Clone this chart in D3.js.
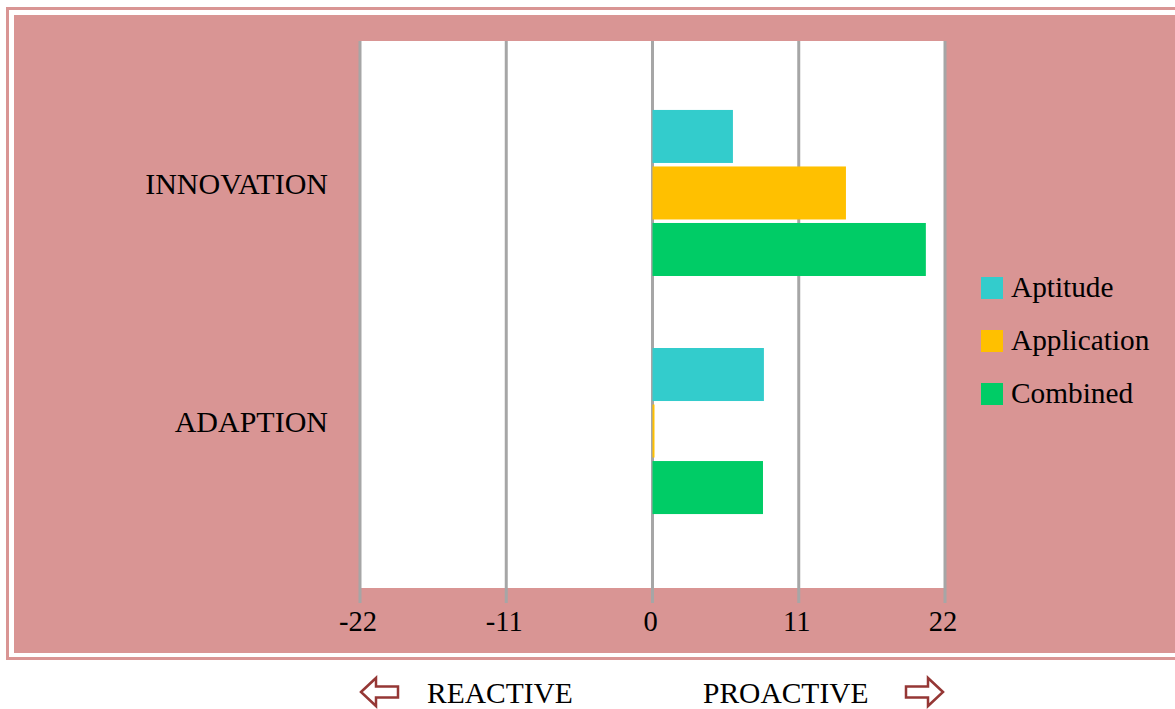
<head>
    <script src="https://cdn.jsdelivr.net/npm/d3@7"></script>
    <style>
        body { margin: 0; background: #fff; }
        text { font-family: "Liberation Serif", "Times New Roman", serif; fill: #000; }
    </style>
</head>
<body>
</body>
<script>
    // data
    const categories = ["INNOVATION", "ADAPTION"];
    const series = ["Aptitude", "Application", "Combined"];
    const colors = ["#33cccc", "#ffc000", "#00cc66"];
    const aptitude = [6.05, 8.38];
    const application = [14.55, 0.15];
    const combined = [20.56, 8.31];
    const tickValues = [-22, -11, 0, 11, 22];

    const values = [aptitude, application, combined];
    const rows = [];
    categories.forEach((c, ci) => {
        series.forEach((s, si) => {
            rows.push({cat: c, series: s, value: values[si][ci], color: colors[si]});
        });
    });

    const width = 1175;
    const height = 709;
    const pink = "#d99594";
    const grid = "#a6a6a6";

    const svg = d3.select("body").append("svg")
        .attr("width", width)
        .attr("height", height);

    // frame
    svg.append("rect")
        .attr("x", 7.5).attr("y", 8.5)
        .attr("width", width + 20).attr("height", 650)
        .attr("fill", "none")
        .attr("stroke", pink)
        .attr("stroke-width", 3);
    svg.append("rect")
        .attr("x", 14).attr("y", 15)
        .attr("width", width).attr("height", 638)
        .attr("fill", pink);

    const plot = {left: 360, right: 945, top: 41, bottom: 588};

    const x = d3.scaleLinear()
        .domain([-22, 22])
        .range([plot.left, plot.right]);

    const y0 = d3.scaleBand()
        .domain(categories)
        .range([74, 550])
        .paddingInner(0.3025)
        .paddingOuter(0.151);

    const y1 = d3.scaleBand()
        .domain(series)
        .range([0, y0.bandwidth()])
        .paddingInner(0.062);

    svg.append("rect")
        .attr("x", plot.left).attr("y", plot.top)
        .attr("width", plot.right - plot.left)
        .attr("height", plot.bottom - plot.top)
        .attr("fill", "#fff");

    // gridlines + tick marks
    svg.append("g")
        .selectAll("line")
        .data(tickValues)
        .join("line")
        .attr("x1", d => x(d)).attr("x2", d => x(d))
        .attr("y1", plot.top).attr("y2", 603)
        .attr("stroke", grid)
        .attr("stroke-width", 3);

    // bars
    svg.append("g")
        .selectAll("rect")
        .data(rows)
        .join("rect")
        .attr("x", d => x(Math.min(0, d.value)))
        .attr("y", d => y0(d.cat) + y1(d.series))
        .attr("width", d => Math.abs(x(d.value) - x(0)))
        .attr("height", y1.bandwidth())
        .attr("fill", d => d.color);

    // x tick labels
    svg.append("g")
        .selectAll("text")
        .data(tickValues)
        .join("text")
        .attr("x", d => x(d) - 2)
        .attr("y", 631)
        .attr("text-anchor", "middle")
        .attr("font-size", 28.5)
        .text(d => d);

    // category labels
    svg.append("g")
        .selectAll("text")
        .data(categories)
        .join("text")
        .attr("x", 328)
        .attr("y", d => y0(d) + y0.bandwidth() / 2 + 1)
        .attr("text-anchor", "end")
        .attr("font-size", 30)
        .text(d => d);

    // legend
    const legend = svg.append("g")
        .selectAll("g")
        .data(series)
        .join("g")
        .attr("transform", (d, i) => `translate(981,${277 + i * 53})`);
    legend.append("rect")
        .attr("width", 22).attr("height", 22)
        .attr("fill", (d, i) => colors[i]);
    legend.append("text")
        .attr("x", 30).attr("y", 20)
        .attr("font-size", 29.3)
        .text(d => d);

    // bottom direction labels
    const arrowColor = "#953735";
    // left arrow, tip at (361,692); right arrow is its mirror image
    const leftArrow = [[361, 692], [376, 678], [376, 686.5], [398, 686.5], [398, 697.5], [376, 697.5], [376, 706]];
    svg.append("path")
        .attr("d", d3.line()(leftArrow) + "Z")
        .attr("fill", "#fff")
        .attr("stroke", arrowColor)
        .attr("stroke-width", 2.5)
        .attr("stroke-linejoin", "miter");
    svg.append("path")
        .attr("d", d3.line()(leftArrow.map(p => [1304 - p[0], p[1]])) + "Z")
        .attr("fill", "#fff")
        .attr("stroke", arrowColor)
        .attr("stroke-width", 2.5)
        .attr("stroke-linejoin", "miter");

    svg.append("text")
        .attr("x", 427).attr("y", 703)
        .attr("font-size", 29.5)
        .text("REACTIVE");
    svg.append("text")
        .attr("x", 703).attr("y", 703)
        .attr("font-size", 29.5)
        .text("PROACTIVE");
</script>
